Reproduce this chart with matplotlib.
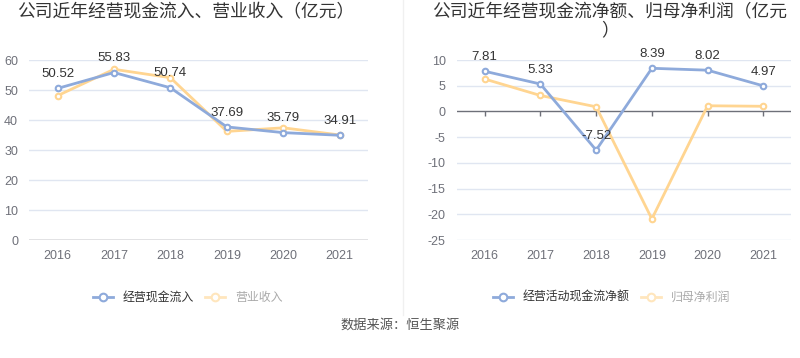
import matplotlib
matplotlib.use('Agg')
import matplotlib.pyplot as plt
from matplotlib.lines import Line2D

plt.rcParams['font.family'] = ['Liberation Sans', 'Noto Sans CJK SC', 'DejaVu Sans']

# ---- data ----
years = ['2016', '2017', '2018', '2019', '2020', '2021']
cash_inflow = [50.52, 55.83, 50.74, 37.69, 35.79, 34.91]
revenue = [48.1, 56.9, 54.1, 36.2, 37.4, 35.0]
net_cash = [7.81, 5.33, -7.52, 8.39, 8.02, 4.97]
net_profit = [6.3, 3.1, 0.9, -20.9, 1.1, 1.0]

left_title = '公司近年经营现金流入、营业收入（亿元）'
right_title = ['公司近年经营现金流净额、归母净利润（亿元', '）']
left_names = ['经营现金流入', '营业收入']
right_names = ['经营活动现金流净额', '归母净利润']
source = '数据来源：恒生聚源'

BLUE = '#8eaadb'
YELLOW = '#ffd591'
GRID = '#e0e6f1'
AXIS = '#6e7079'

fig = plt.figure(figsize=(8, 3.58), dpi=100, facecolor='white')
ax1 = fig.add_axes([0.0366, 0.3296, 0.4234, 0.5028])
ax2 = fig.add_axes([0.571, 0.3296, 0.418, 0.5028])

x = list(range(len(years)))
mk = dict(marker='o', ms=4, mfc='white', mew=1.5)


def draw_panel(ax, s1, s2, ylim, yticks):
    ax.plot(x, s2, color=YELLOW, lw=2, mec=YELLOW, zorder=3, **mk)
    ax.plot(x, s1, color=BLUE, lw=2, mec=BLUE, zorder=4, **mk)
    for xi, v in zip(x, s1):
        ax.annotate(f'{v:.2f}', (xi, v), xytext=(0, 6), textcoords='offset points',
                    ha='center', va='bottom', fontsize=9.5, color='#333333', zorder=5)
    ax.set_xlim(-0.5, len(years) - 0.5)
    ax.set_ylim(*ylim)
    ax.set_yticks(yticks)
    ax.set_yticklabels([str(t) for t in yticks])
    ax.set_xticks(x)
    ax.set_xticklabels(years)
    for t in yticks:
        if t != 0:
            ax.axhline(t, color=GRID, lw=1, zorder=1)
    ax.axhline(0, color=AXIS, lw=1, zorder=2)
    for s in ax.spines.values():
        s.set_visible(False)
    ax.tick_params(axis='y', length=0, labelsize=9, labelcolor=AXIS, pad=8)
    ax.tick_params(axis='x', length=0, labelsize=9, labelcolor=AXIS, pad=7)
    # small tick marks hanging below the zero line
    trans = ax.get_xaxis_transform()
    zero = (0 - ylim[0]) / (ylim[1] - ylim[0])
    ax.vlines(x, zero - 0.025, zero, transform=trans, color=AXIS, lw=1, zorder=2)


draw_panel(ax1, cash_inflow, revenue, (0, 60), [0, 10, 20, 30, 40, 50, 60])
draw_panel(ax2, net_cash, net_profit, (-25, 10), [-25, -20, -15, -10, -5, 0, 5, 10])

fig.text(0.021, 0.963, left_title, fontsize=12.8, color='#333333', ha='left', va='center')
fig.text(0.54, 0.963, right_title[0], fontsize=12.8, color='#333333', ha='left', va='center')
fig.text(0.762, 0.915, right_title[1], fontsize=12.8, color='#333333', ha='center', va='center')

# separator
fig.add_artist(Line2D([0.5035, 0.5035], [0.12, 1.0], color='#f0f0f0', lw=1))


def legend(names, x0):
    lmk = dict(marker='o', ms=5.5, mfc='white', mew=1.5)
    handles = [Line2D([], [], color=BLUE, lw=2, mec=BLUE, **lmk),
               Line2D([], [], color='#ffe6bd', lw=2, mec='#ffe6bd', **lmk)]
    lg = fig.legend(handles, names, loc='center left', bbox_to_anchor=(x0, 0.1676), ncol=2,
                    frameon=False, fontsize=8.6, handlelength=1.67, handletextpad=0.8,
                    columnspacing=1.0, borderpad=0, borderaxespad=0)
    lg.get_texts()[0].set_color('#333333')
    lg.get_texts()[1].set_color('#aaaaaa')


legend(left_names, 0.1159)
legend(right_names, 0.6159)

fig.text(0.5, 0.092, source, fontsize=9.5, color='#555555', ha='center', va='center')

fig.savefig('out.png', dpi=100, facecolor='white')
